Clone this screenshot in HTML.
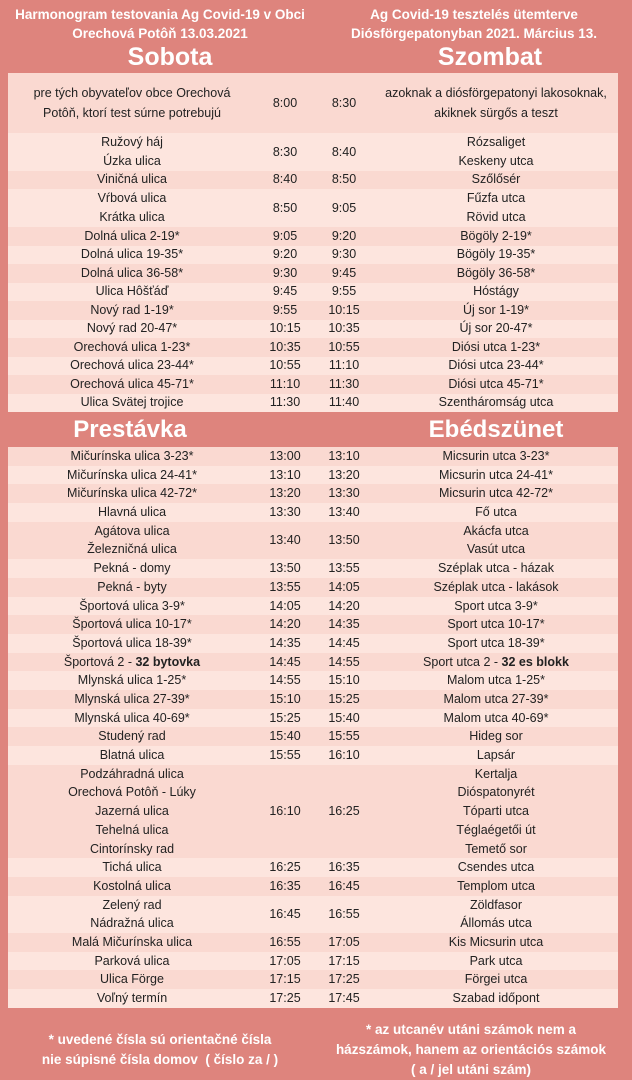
<!DOCTYPE html>
<html><head><meta charset="utf-8"><style>
*{margin:0;padding:0;box-sizing:border-box}
body{width:632px;height:1080px;background:#de847d;font-family:"Liberation Sans",sans-serif;position:relative;overflow:hidden;color:#222}
.h{position:absolute;color:#fff;font-weight:bold;text-align:center}
.t{position:absolute;left:8px;width:610px}
.r{display:flex;align-items:center;font-size:12.5px;text-align:center}
.r:nth-child(odd){background:#fad9d1}
.r:nth-child(even){background:#fde5de}
.c1{width:248px}.c2{width:58px}.c3{width:60px}.c4{width:244px}
.c1 div,.c4 div{line-height:inherit}
</style></head><body>
<div class="h" style="left:0;width:320px;top:5px;font-size:13.5px;line-height:19px">Harmonogram testovania Ag Covid-19 v Obci<br>Orechová Potôň 13.03.2021</div>
<div class="h" style="left:316px;width:316px;top:5px;font-size:13.5px;line-height:19px">Ag Covid-19 tesztelés ütemterve<br>Diósförgepatonyban 2021. Március 13.</div>
<div class="h" style="left:40px;width:260px;top:43px;font-size:25px">Sobota</div>
<div class="h" style="left:360px;width:260px;top:43px;font-size:25px">Szombat</div>
<div class="h" style="left:0;width:260px;top:416px;font-size:24px">Prestávka</div>
<div class="h" style="left:366px;width:260px;top:416px;font-size:24px">Ebédszünet</div>

<div class="t" style="top:73px;line-height:17.5px">
<div class="r" style="height:60px;line-height:20px"><div class="c1">pre tých obyvateľov obce Orechová<br>Potôň, ktorí test súrne potrebujú</div><div class="c2">8:00</div><div class="c3">8:30</div><div class="c4">azoknak a diósförgepatonyi lakosoknak,<br>akiknek sürgős a teszt</div></div>
<div class="r" style="height:38px;line-height:19px"><div class="c1">Ružový háj<br>Úzka ulica</div><div class="c2">8:30</div><div class="c3">8:40</div><div class="c4">Rózsaliget<br>Keskeny utca</div></div>
<div class="r" style="height:18px"><div class="c1">Viničná ulica</div><div class="c2">8:40</div><div class="c3">8:50</div><div class="c4">Szőlősér</div></div>
<div class="r" style="height:38px;line-height:19px"><div class="c1">Vŕbová ulica<br>Krátka ulica</div><div class="c2">8:50</div><div class="c3">9:05</div><div class="c4">Fűzfa utca<br>Rövid utca</div></div>
<div class="r" style="height:18.5px"><div class="c1">Dolná ulica 2-19*</div><div class="c2">9:05</div><div class="c3">9:20</div><div class="c4">Bögöly 2-19*</div></div>
<div class="r" style="height:18.5px"><div class="c1">Dolná ulica 19-35*</div><div class="c2">9:20</div><div class="c3">9:30</div><div class="c4">Bögöly 19-35*</div></div>
<div class="r" style="height:18.5px"><div class="c1">Dolná ulica 36-58*</div><div class="c2">9:30</div><div class="c3">9:45</div><div class="c4">Bögöly 36-58*</div></div>
<div class="r" style="height:18.5px"><div class="c1">Ulica Hôšťáď</div><div class="c2">9:45</div><div class="c3">9:55</div><div class="c4">Hóstágy</div></div>
<div class="r" style="height:18.5px"><div class="c1">Nový rad 1-19*</div><div class="c2">9:55</div><div class="c3">10:15</div><div class="c4">Új sor 1-19*</div></div>
<div class="r" style="height:18.5px"><div class="c1">Nový rad 20-47*</div><div class="c2">10:15</div><div class="c3">10:35</div><div class="c4">Új sor 20-47*</div></div>
<div class="r" style="height:18.5px"><div class="c1">Orechová ulica 1-23*</div><div class="c2">10:35</div><div class="c3">10:55</div><div class="c4">Diósi utca 1-23*</div></div>
<div class="r" style="height:18.5px"><div class="c1">Orechová ulica 23-44*</div><div class="c2">10:55</div><div class="c3">11:10</div><div class="c4">Diósi utca 23-44*</div></div>
<div class="r" style="height:18.5px"><div class="c1">Orechová ulica 45-71*</div><div class="c2">11:10</div><div class="c3">11:30</div><div class="c4">Diósi utca 45-71*</div></div>
<div class="r" style="height:18.5px"><div class="c1">Ulica Svätej trojice</div><div class="c2">11:30</div><div class="c3">11:40</div><div class="c4">Szentháromság utca</div></div>
</div>

<div class="t" style="top:447px;line-height:18.7px">
<div class="r" style="height:18.7px"><div class="c1">Mičurínska ulica 3-23*</div><div class="c2">13:00</div><div class="c3">13:10</div><div class="c4">Micsurin utca 3-23*</div></div>
<div class="r" style="height:18.7px"><div class="c1">Mičurínska ulica 24-41*</div><div class="c2">13:10</div><div class="c3">13:20</div><div class="c4">Micsurin utca 24-41*</div></div>
<div class="r" style="height:18.7px"><div class="c1">Mičurínska ulica 42-72*</div><div class="c2">13:20</div><div class="c3">13:30</div><div class="c4">Micsurin utca 42-72*</div></div>
<div class="r" style="height:18.7px"><div class="c1">Hlavná ulica</div><div class="c2">13:30</div><div class="c3">13:40</div><div class="c4">Fő utca</div></div>
<div class="r" style="height:37.4px"><div class="c1">Agátova ulica<br>Železničná ulica</div><div class="c2">13:40</div><div class="c3">13:50</div><div class="c4">Akácfa utca<br>Vasút utca</div></div>
<div class="r" style="height:18.7px"><div class="c1">Pekná - domy</div><div class="c2">13:50</div><div class="c3">13:55</div><div class="c4">Széplak utca - házak</div></div>
<div class="r" style="height:18.7px"><div class="c1">Pekná - byty</div><div class="c2">13:55</div><div class="c3">14:05</div><div class="c4">Széplak utca - lakások</div></div>
<div class="r" style="height:18.7px"><div class="c1">Športová ulica 3-9*</div><div class="c2">14:05</div><div class="c3">14:20</div><div class="c4">Sport utca 3-9*</div></div>
<div class="r" style="height:18.7px"><div class="c1">Športová ulica 10-17*</div><div class="c2">14:20</div><div class="c3">14:35</div><div class="c4">Sport utca 10-17*</div></div>
<div class="r" style="height:18.7px"><div class="c1">Športová ulica 18-39*</div><div class="c2">14:35</div><div class="c3">14:45</div><div class="c4">Sport utca 18-39*</div></div>
<div class="r" style="height:18.7px"><div class="c1">Športová 2 - <b>32 bytovka</b></div><div class="c2">14:45</div><div class="c3">14:55</div><div class="c4">Sport utca 2 - <b>32 es blokk</b></div></div>
<div class="r" style="height:18.7px"><div class="c1">Mlynská ulica 1-25*</div><div class="c2">14:55</div><div class="c3">15:10</div><div class="c4">Malom utca 1-25*</div></div>
<div class="r" style="height:18.7px"><div class="c1">Mlynská ulica 27-39*</div><div class="c2">15:10</div><div class="c3">15:25</div><div class="c4">Malom utca 27-39*</div></div>
<div class="r" style="height:18.7px"><div class="c1">Mlynská ulica 40-69*</div><div class="c2">15:25</div><div class="c3">15:40</div><div class="c4">Malom utca 40-69*</div></div>
<div class="r" style="height:18.7px"><div class="c1">Studený rad</div><div class="c2">15:40</div><div class="c3">15:55</div><div class="c4">Hideg sor</div></div>
<div class="r" style="height:18.7px"><div class="c1">Blatná ulica</div><div class="c2">15:55</div><div class="c3">16:10</div><div class="c4">Lapsár</div></div>
<div class="r" style="height:93.5px"><div class="c1">Podzáhradná ulica<br>Orechová Potôň - Lúky<br>Jazerná ulica<br>Tehelná ulica<br>Cintorínsky rad</div><div class="c2">16:10</div><div class="c3">16:25</div><div class="c4">Kertalja<br>Dióspatonyrét<br>Tóparti utca<br>Téglaégetői út<br>Temető sor</div></div>
<div class="r" style="height:18.7px"><div class="c1">Tichá ulica</div><div class="c2">16:25</div><div class="c3">16:35</div><div class="c4">Csendes utca</div></div>
<div class="r" style="height:18.7px"><div class="c1">Kostolná ulica</div><div class="c2">16:35</div><div class="c3">16:45</div><div class="c4">Templom utca</div></div>
<div class="r" style="height:37.4px"><div class="c1">Zelený rad<br>Nádražná ulica</div><div class="c2">16:45</div><div class="c3">16:55</div><div class="c4">Zöldfasor<br>Állomás utca</div></div>
<div class="r" style="height:18.7px"><div class="c1">Malá Mičurínska ulica</div><div class="c2">16:55</div><div class="c3">17:05</div><div class="c4">Kis Micsurin utca</div></div>
<div class="r" style="height:18.7px"><div class="c1">Parková ulica</div><div class="c2">17:05</div><div class="c3">17:15</div><div class="c4">Park utca</div></div>
<div class="r" style="height:18.7px"><div class="c1">Ulica Förge</div><div class="c2">17:15</div><div class="c3">17:25</div><div class="c4">Förgei utca</div></div>
<div class="r" style="height:18.7px"><div class="c1">Voľný termín</div><div class="c2">17:25</div><div class="c3">17:45</div><div class="c4">Szabad időpont</div></div>
</div>

<div class="h" style="left:0;width:320px;top:1030px;font-size:13.5px;line-height:20px">* uvedené čísla sú orientačné čísla<br>nie súpisné čísla domov &nbsp;( číslo za / )</div>
<div class="h" style="left:310px;width:322px;top:1020px;font-size:13.5px;line-height:20px">* az utcanév utáni számok nem a<br>házszámok, hanem az orientációs számok<br>( a / jel utáni szám)</div>
</body></html>
